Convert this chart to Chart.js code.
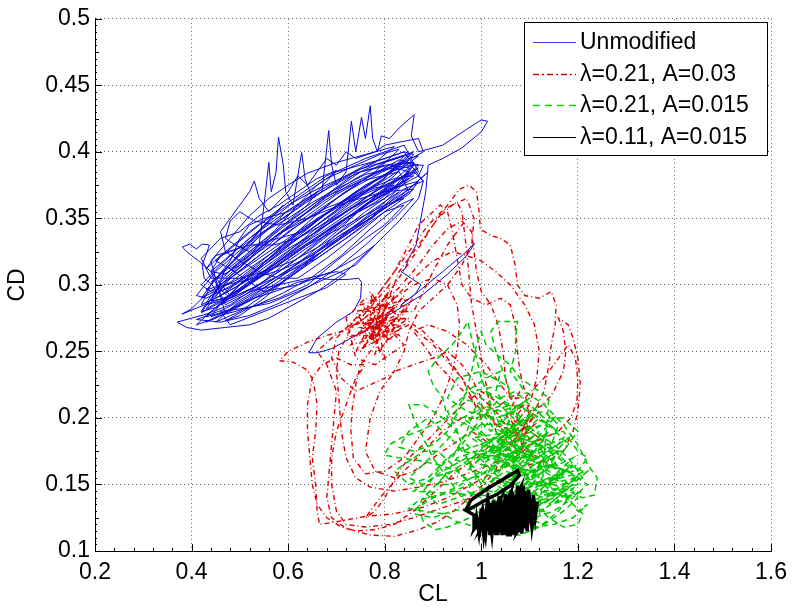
<!DOCTYPE html>
<html>
<head>
<meta charset="utf-8">
<script src="https://cdn.jsdelivr.net/npm/chart.js@4/dist/chart.umd.min.js"></script>
<style>
  body { margin: 0; background: #fff; }
  canvas { display: block; }
</style>
</head>
<body>
<canvas id="chart" width="795" height="610"></canvas>
<script>
// axis ticks
const xTicks = [0.2, 0.4, 0.6, 0.8, 1.0, 1.2, 1.4, 1.6];
const xTickLabels = ['0.2', '0.4', '0.6', '0.8', '1', '1.2', '1.4', '1.6'];
const yTicks = [0.1, 0.15, 0.2, 0.25, 0.3, 0.35, 0.4, 0.45, 0.5];
const yTickLabels = ['0.1', '0.15', '0.2', '0.25', '0.3', '0.35', '0.4', '0.45', '0.5'];

const seriesNames = ['Unmodified', 'λ=0.21, A=0.03', 'λ=0.21, A=0.015', 'λ=0.11, A=0.015'];

// [CL, CD]
const unmodified = [
  [0.451,0.295],[0.443,0.300],[0.426,0.305],[0.422,0.315],[0.430,0.3225],[0.437,0.330],[0.422,0.3307],[0.41,0.327],[0.396,0.3307],[0.381,0.3285],[0.39,0.325],[0.40,0.322],[0.415,0.318],[0.44,0.31],[0.47,0.308],
  [0.52,0.322],[0.58,0.338],[0.64,0.352],[0.70,0.368],[0.76,0.38],[0.82,0.39],[0.86,0.392],[0.84,0.382],[0.78,0.366],[0.72,0.35],[0.66,0.333],[0.60,0.318],[0.54,0.30],[0.48,0.285],[0.43,0.278],[0.40,0.275],[0.37,0.272],[0.39,0.268],[0.42,0.266],[0.47,0.268],[0.52,0.270],[0.56,0.275],[0.60,0.283],[0.66,0.295],[0.72,0.31],[0.78,0.33],[0.83,0.348],[0.87,0.365],[0.88,0.378],[0.86,0.385],
  [0.80,0.375],[0.74,0.36],[0.68,0.345],[0.62,0.328],[0.56,0.312],[0.50,0.295],[0.45,0.283],[0.42,0.28],[0.44,0.292],[0.49,0.308],[0.55,0.325],[0.61,0.342],[0.67,0.358],[0.73,0.372],[0.79,0.384],[0.85,0.395],[0.87,0.397],[0.83,0.386],[0.77,0.372],[0.71,0.356],[0.65,0.34],[0.59,0.322],[0.53,0.305],[0.47,0.29],[0.44,0.288],[0.46,0.302],[0.51,0.318],
  [0.54,0.33],[0.55,0.36],[0.56,0.392],[0.565,0.37],[0.575,0.385],[0.58,0.411],[0.59,0.39],[0.595,0.37],[0.61,0.36],[0.628,0.3995],[0.635,0.38],[0.65,0.365],[0.67,0.37],[0.684,0.416],[0.69,0.39],[0.70,0.375],[0.72,0.385],[0.731,0.423],[0.74,0.40],[0.752,0.426],[0.76,0.41],[0.77,0.4346],[0.775,0.41],[0.785,0.40],[0.793,0.412],[0.81,0.41],[0.83,0.418],[0.861,0.428],[0.855,0.412],[0.87,0.40],
  [0.92,0.405],[0.97,0.417],[1.0,0.424],[1.013,0.423],[1.0,0.415],[0.96,0.403],[0.92,0.395],[0.89,0.39],
  [0.885,0.37],[0.875,0.35],[0.865,0.33],[0.85,0.32],[0.842,0.312],[0.834,0.31],[0.855,0.305],[0.875,0.30],[0.863,0.293],[0.834,0.285],[0.87,0.295],[0.92,0.31],[0.96,0.322],[0.986,0.331],[0.97,0.322],[0.93,0.308],[0.88,0.293],[0.82,0.28],[0.77,0.268],[0.73,0.26],[0.69,0.252],[0.66,0.249],[0.643,0.249],[0.66,0.26],[0.70,0.272],[0.735,0.28],[0.75,0.29],[0.752,0.302],[0.746,0.305],[0.72,0.304],[0.69,0.304],[0.66,0.305],[0.62,0.302],[0.58,0.296],
  [0.53,0.29],[0.47,0.28],[0.44,0.276],[0.46,0.286],[0.52,0.30],[0.58,0.315],[0.64,0.33],[0.70,0.345],[0.76,0.36],[0.82,0.372],[0.87,0.382],[0.88,0.39],[0.84,0.39],[0.78,0.378],[0.72,0.362],[0.66,0.345],[0.60,0.33],[0.54,0.315],[0.48,0.298],[0.45,0.294],[0.47,0.312],[0.52,0.33],[0.57,0.345],[0.63,0.36],[0.69,0.375],[0.75,0.387],[0.81,0.394],[0.86,0.40],[0.82,0.387],[0.76,0.375],[0.70,0.36],[0.64,0.342],[0.58,0.325],[0.52,0.308],[0.46,0.292],[0.42,0.285],[0.44,0.30],[0.48,0.318],[0.50,0.335],[0.52,0.345],[0.55,0.35],[0.60,0.355],[0.66,0.368],[0.72,0.38],[0.78,0.39],[0.84,0.397],
  [0.80,0.38],[0.74,0.365],[0.68,0.35],[0.62,0.335],[0.56,0.318],[0.50,0.30],[0.46,0.285],[0.50,0.292],[0.56,0.305],[0.62,0.32],[0.68,0.338],[0.74,0.355],[0.80,0.37],[0.85,0.38],[0.80,0.362],[0.74,0.345],[0.68,0.328],[0.62,0.31],[0.56,0.295],[0.50,0.28],[0.45,0.272],[0.49,0.285],[0.55,0.298],[0.61,0.312],[0.67,0.325],[0.73,0.34],[0.79,0.355],[0.84,0.367],[0.86,0.372],
  [0.80,0.37],[0.72,0.362],[0.64,0.35],[0.58,0.345],[0.53,0.348],[0.50,0.355],[0.48,0.348],[0.47,0.335],[0.49,0.33],[0.52,0.325],
  [0.57,0.34],[0.62,0.36],[0.66,0.375],[0.70,0.385],[0.75,0.39],[0.80,0.395],[0.84,0.40],[0.86,0.398],[0.82,0.382],[0.77,0.368],[0.71,0.352],[0.65,0.338],[0.59,0.325],[0.53,0.31],[0.47,0.297],[0.43,0.29],[0.41,0.292],[0.45,0.31],[0.50,0.326],[0.55,0.34],[0.60,0.35],[0.65,0.362],[0.70,0.372],[0.76,0.383],[0.82,0.388],[0.85,0.385],[0.79,0.37],[0.73,0.355],[0.67,0.34],[0.61,0.326],[0.55,0.31],[0.49,0.293],[0.44,0.28],[0.41,0.27],[0.45,0.275],[0.51,0.287],[0.57,0.3],[0.63,0.315],[0.69,0.33],[0.75,0.345],[0.81,0.36],[0.86,0.375],[0.89,0.385],[0.85,0.372],[0.79,0.357],[0.73,0.342],[0.67,0.325],[0.61,0.308],[0.55,0.29],[0.50,0.277],[0.47,0.273],[0.52,0.283],[0.58,0.29],[0.64,0.3],[0.70,0.318],[0.76,0.335],[0.80,0.345],[0.84,0.36],[0.80,0.355],[0.74,0.337],[0.68,0.32],[0.62,0.305],
  [0.58,0.305],[0.54,0.31],[0.50,0.318],[0.47,0.325],[0.46,0.34],[0.48,0.35],[0.50,0.36],[0.52,0.37],[0.53,0.378],[0.54,0.365],[0.56,0.355],[0.60,0.37],[0.62,0.382],[0.64,0.375],[0.66,0.385],[0.68,0.395],[0.70,0.39],[0.72,0.40],[0.74,0.395],[0.78,0.40],[0.80,0.405],[0.84,0.408],[0.87,0.41],[0.88,0.40],
  [0.83,0.39],[0.77,0.376],[0.71,0.362],[0.65,0.346],[0.59,0.33],[0.53,0.315],[0.48,0.302],[0.44,0.295],[0.42,0.3],[0.46,0.315],[0.51,0.332],[0.56,0.347],[0.62,0.365],[0.68,0.38],[0.74,0.39],[0.79,0.398],[0.83,0.402],
  [0.78,0.385],[0.72,0.37],[0.66,0.354],[0.60,0.34],[0.54,0.322],[0.48,0.305],[0.43,0.293],[0.40,0.282],[0.38,0.278],[0.42,0.284],[0.48,0.292],[0.54,0.308],[0.60,0.322],[0.66,0.336],[0.72,0.35],[0.78,0.362],[0.83,0.375],[0.87,0.388],
  [0.82,0.378],[0.76,0.36],[0.70,0.34],[0.64,0.322],[0.58,0.305],[0.52,0.29],[0.46,0.278],[0.43,0.272],[0.48,0.28],[0.54,0.292],[0.60,0.305],[0.66,0.32],[0.72,0.335],[0.78,0.35],[0.84,0.365],
  [0.80,0.36],[0.72,0.345],[0.64,0.33],[0.56,0.31],[0.48,0.292],[0.44,0.31],[0.52,0.335],[0.60,0.356],[0.68,0.374],[0.76,0.39],[0.84,0.40],[0.86,0.39],[0.80,0.365],[0.72,0.35],[0.64,0.33],[0.56,0.31],[0.48,0.292],[0.43,0.282],
  [0.48,0.305],[0.56,0.325],[0.64,0.345],[0.72,0.362],[0.80,0.375],[0.87,0.385],[0.84,0.405],[0.76,0.395],[0.68,0.382],[0.60,0.362],[0.52,0.34],[0.46,0.322],[0.44,0.31],
  [0.47,0.285],[0.55,0.30],[0.63,0.318],[0.71,0.336],[0.79,0.355],[0.85,0.37],[0.83,0.385],[0.75,0.378],[0.67,0.365],[0.59,0.345],[0.51,0.322],[0.45,0.305],
  [0.42,0.29],[0.50,0.305],[0.58,0.328],[0.66,0.35],[0.74,0.368],[0.82,0.38],[0.86,0.382],[0.78,0.364],[0.70,0.346],[0.62,0.326],[0.54,0.306],[0.46,0.287],[0.42,0.279],
  [0.46,0.30],[0.52,0.32],[0.58,0.342],[0.64,0.36],[0.66,0.37],[0.60,0.356],[0.54,0.336],[0.48,0.315],[0.44,0.302],
  [0.50,0.315],[0.56,0.33],[0.62,0.35],[0.68,0.366],[0.74,0.38],[0.80,0.392],[0.85,0.398],[0.80,0.382],[0.74,0.37],[0.68,0.354],[0.62,0.338],[0.56,0.32],
  [0.50,0.30],[0.57,0.318],[0.65,0.338],[0.73,0.358],[0.81,0.372],[0.87,0.378],[0.85,0.368],[0.77,0.352],[0.69,0.333],[0.61,0.314],[0.53,0.295],[0.47,0.282],
  [0.41,0.274],[0.46,0.272],[0.52,0.277],[0.58,0.286],[0.64,0.298],[0.70,0.312],[0.76,0.33],[0.82,0.35],[0.86,0.365],[0.83,0.36],[0.77,0.342],[0.71,0.322],[0.65,0.306],[0.59,0.294],[0.53,0.284],[0.47,0.278],
  [0.44,0.318],[0.48,0.335],[0.52,0.352],[0.56,0.365],[0.60,0.375],[0.64,0.384],[0.70,0.392],[0.76,0.398],[0.82,0.404],[0.78,0.392],[0.72,0.382],[0.66,0.372],[0.60,0.36],[0.54,0.345],[0.49,0.33],[0.45,0.318],
  [0.49,0.31],[0.55,0.33],[0.61,0.347],[0.67,0.362],[0.73,0.376],[0.79,0.386],[0.84,0.392],[0.79,0.378],[0.73,0.364],[0.67,0.348],[0.61,0.332],[0.55,0.315],[0.49,0.298],
  [0.45,0.29],[0.51,0.302],[0.57,0.315],[0.63,0.332],[0.69,0.35],[0.75,0.364],[0.81,0.376],[0.85,0.388],[0.81,0.39],[0.75,0.385],[0.69,0.37],[0.63,0.352],[0.57,0.335],[0.51,0.316],[0.46,0.3],
  [0.43,0.296],[0.49,0.32],[0.55,0.345],[0.59,0.36],[0.57,0.352],[0.53,0.336],[0.49,0.32],[0.53,0.33],[0.58,0.335],[0.63,0.34],[0.69,0.356],[0.75,0.372],[0.81,0.385],[0.86,0.39],
  [0.82,0.37],[0.76,0.355],[0.70,0.338],[0.64,0.318],[0.58,0.3],[0.52,0.288],[0.47,0.28],[0.43,0.276],[0.47,0.29],[0.53,0.31],[0.59,0.33],[0.65,0.35],[0.71,0.368],[0.77,0.382],[0.83,0.394],[0.87,0.39],
  [0.83,0.376],[0.77,0.362],[0.71,0.345],[0.65,0.328],[0.59,0.312],[0.53,0.298],[0.48,0.29],[0.45,0.3],[0.50,0.318],[0.56,0.335],[0.62,0.352],[0.68,0.368],[0.74,0.384],[0.80,0.39],[0.85,0.392],
  [0.88,0.378],[0.84,0.372],[0.78,0.352],[0.72,0.335],[0.66,0.32],[0.60,0.31],[0.54,0.3],[0.48,0.29],[0.43,0.285],
  [0.47,0.3],[0.53,0.305],[0.59,0.312],[0.65,0.322],[0.71,0.338],[0.77,0.35],[0.83,0.37],[0.79,0.36],[0.73,0.345],[0.67,0.33],[0.61,0.318],[0.55,0.31],[0.50,0.305],[0.44,0.305],[0.42,0.32],[0.46,0.335],[0.50,0.34],[0.54,0.352],
  [0.58,0.36],[0.62,0.37],[0.66,0.38],[0.70,0.386],[0.66,0.37],[0.62,0.358],[0.58,0.348],[0.54,0.338],[0.50,0.328],[0.46,0.322],[0.43,0.312],[0.45,0.322],
  [0.52,0.33],[0.57,0.33],[0.62,0.335],[0.67,0.345],[0.72,0.355],[0.77,0.365],[0.82,0.375],[0.78,0.373],[0.73,0.365],[0.68,0.358],[0.63,0.348],[0.58,0.338],[0.53,0.325],[0.48,0.312],
  [0.55,0.295],[0.62,0.3],[0.69,0.31],[0.75,0.322],[0.78,0.33],[0.74,0.315],[0.68,0.305],[0.62,0.295],[0.56,0.286],[0.50,0.282],[0.46,0.28],
  [0.48,0.27],[0.55,0.28],[0.62,0.29],[0.68,0.298],[0.72,0.308],[0.70,0.31],[0.64,0.305],[0.58,0.3],[0.52,0.295]
];

const lam21A03 = [
  [0.79,0.27],[0.76,0.255],[0.82,0.285],[0.77,0.262],[0.84,0.292],[0.75,0.25],[0.80,0.28],[0.74,0.262],[0.83,0.276],[0.78,0.29],[0.81,0.258],[0.76,0.28],[0.85,0.285],[0.79,0.25],[0.77,0.275],[0.82,0.27],[0.75,0.268],[0.80,0.262],[0.73,0.255],[0.78,0.282],
  [0.82,0.30],[0.86,0.322],[0.90,0.345],[0.93,0.36],[0.955,0.372],[0.975,0.375],[0.99,0.37],[0.995,0.357],[0.998,0.342],[1.02,0.337],[1.04,0.335],[1.06,0.33],[1.07,0.315],[1.075,0.30],[1.09,0.292],[1.12,0.29],[1.145,0.295],[1.155,0.285],[1.153,0.27],[1.145,0.255],[1.14,0.24],[1.13,0.22],[1.11,0.205],
  [1.08,0.19],[1.12,0.205],[1.06,0.18],[1.10,0.2],[1.05,0.175],[1.11,0.195],[1.04,0.185],[1.09,0.175],[1.06,0.2],[1.12,0.185],[1.07,0.17],[1.10,0.185],
  [1.06,0.165],[1.02,0.158],[0.98,0.15],[0.93,0.14],[0.88,0.133],[0.82,0.128],[0.76,0.126],[0.70,0.122],[0.665,0.12],[0.66,0.13],[0.657,0.15],[0.65,0.17],[0.657,0.19],[0.66,0.21],[0.652,0.228],[0.64,0.236],[0.61,0.242],[0.582,0.243],[0.60,0.25],[0.64,0.257],[0.68,0.262],[0.72,0.266],
  [0.78,0.28],[0.83,0.298],[0.87,0.315],[0.90,0.33],[0.93,0.342],[0.96,0.348],[0.98,0.34],[0.985,0.325],[0.99,0.31],[1.0,0.295],[1.02,0.285],[1.035,0.27],[1.045,0.25],[1.05,0.23],[1.06,0.215],
  [1.09,0.215],[1.13,0.23],[1.16,0.245],[1.18,0.255],[1.195,0.245],[1.2,0.228],[1.198,0.212],[1.185,0.2],[1.16,0.19],[1.13,0.185],[1.10,0.18],[1.06,0.172],
  [1.02,0.165],[0.97,0.158],[0.92,0.152],[0.87,0.148],[0.82,0.145],[0.77,0.148],[0.74,0.155],[0.72,0.17],[0.71,0.19],[0.705,0.215],[0.70,0.235],[0.705,0.25],[0.72,0.26],[0.76,0.265],
  [0.79,0.28],[0.82,0.29],[0.86,0.30],[0.90,0.305],[0.93,0.3],[0.95,0.285],[0.955,0.27],[0.95,0.25],[0.94,0.235],[0.92,0.215],[0.90,0.2],[0.87,0.185],[0.84,0.17],[0.80,0.16],[0.76,0.158],[0.735,0.17],[0.73,0.19],[0.732,0.205],[0.74,0.225],[0.75,0.24],[0.77,0.25],
  [0.80,0.265],[0.76,0.27],[0.81,0.28],[0.78,0.26],[0.84,0.28],[0.77,0.268],
  [0.82,0.29],[0.86,0.305],[0.90,0.318],[0.94,0.325],[0.97,0.322],[1.0,0.318],[1.03,0.31],[1.06,0.3],[1.09,0.285],[1.11,0.27],[1.12,0.25],[1.115,0.23],[1.1,0.21],[1.08,0.2],[1.05,0.19],
  [1.03,0.16],[0.99,0.145],[0.95,0.132],[0.91,0.122],[0.87,0.116],[0.82,0.111],[0.77,0.112],[0.72,0.117],[0.69,0.125],[0.68,0.14],[0.685,0.16],[0.69,0.18],[0.695,0.2],[0.70,0.22],
  [0.68,0.24],[0.66,0.25],[0.69,0.26],[0.73,0.27],[0.77,0.285],[0.80,0.3],[0.83,0.315],[0.86,0.33],[0.89,0.345],[0.92,0.356],[0.95,0.362],[0.96,0.355],[0.965,0.34],[0.97,0.325],[0.975,0.305],[0.98,0.285],[0.99,0.265],[1.0,0.245],[1.01,0.225],[1.02,0.205],[1.03,0.19],[1.05,0.18],
  [1.08,0.185],[1.10,0.19],[1.07,0.2],[1.09,0.21],[1.05,0.2],[1.08,0.22],[1.04,0.21],
  [1.0,0.22],[0.96,0.21],[0.92,0.195],[0.88,0.18],[0.85,0.17],[0.83,0.16],[0.80,0.14],[0.78,0.13],[0.76,0.125],
  [0.79,0.14],[0.84,0.16],[0.88,0.175],[0.92,0.19],[0.96,0.2],[1.0,0.2],
  [0.96,0.23],[0.90,0.255],[0.85,0.27],
  [0.74,0.25],[0.80,0.29],[0.75,0.272],[0.83,0.262],[0.77,0.295],[0.80,0.245],[0.74,0.28],[0.86,0.29],[0.79,0.262],[0.72,0.262],[0.81,0.3],[0.78,0.248],[0.84,0.27],[0.76,0.26],[0.82,0.292],[0.75,0.285],[0.79,0.275],[0.73,0.27],[0.85,0.275],[0.77,0.255],
  [0.83,0.31],[0.87,0.33],[0.91,0.35],[0.94,0.36],[0.97,0.365],[0.985,0.35],[0.98,0.33],[0.96,0.315],[0.93,0.3],[0.90,0.29],[0.87,0.28],[0.85,0.265],[0.84,0.25],[0.82,0.235],
  [0.80,0.23],[0.77,0.225],[0.74,0.22],[0.71,0.23],[0.69,0.245],[0.70,0.26],[0.74,0.275],[0.78,0.29],[0.82,0.31],[0.85,0.33],[0.87,0.345],[0.90,0.355],[0.915,0.36],[0.93,0.355],[0.94,0.34],[0.95,0.32],[0.96,0.30],[0.98,0.29],[1.01,0.285],[1.04,0.29],[1.06,0.285],[1.07,0.27],[1.075,0.25],[1.08,0.235],[1.09,0.22],[1.10,0.2],
  [1.07,0.19],[1.03,0.195],[0.99,0.21],[0.95,0.225],[0.91,0.24],[0.88,0.255],[0.86,0.265],[0.89,0.27],[0.93,0.265],[0.97,0.255],[1.01,0.24],[1.04,0.225],[1.07,0.21],[1.10,0.205],[1.13,0.21],[1.15,0.22],[1.17,0.235],[1.175,0.25],[1.17,0.265],[1.16,0.275],
  [1.18,0.27],[1.19,0.26],[1.2,0.245],[1.205,0.225],[1.2,0.205],[1.19,0.19],[1.17,0.175],[1.14,0.168],[1.10,0.165],[1.06,0.158],[1.02,0.15],
  [0.98,0.14],[0.94,0.135],[0.90,0.13],[0.86,0.125],[0.81,0.12],[0.76,0.118],[0.72,0.12],[0.70,0.13],[0.69,0.15],[0.69,0.17],[0.70,0.19],[0.72,0.21],[0.74,0.23],[0.76,0.24],
  [0.73,0.24],[0.70,0.245],[0.67,0.24],[0.65,0.23],[0.64,0.21],[0.64,0.19],[0.645,0.17],[0.65,0.15],[0.66,0.135],[0.68,0.125],[0.71,0.118],[0.74,0.115],[0.78,0.116],[0.82,0.12],[0.86,0.13],[0.89,0.14],[0.92,0.15],[0.95,0.16],[0.99,0.17],[1.02,0.18],
  [0.98,0.19],[0.94,0.18],[0.90,0.17],[0.86,0.16],[0.82,0.155],[0.78,0.16],[0.76,0.175],[0.77,0.2],[0.79,0.22],[0.82,0.235],[0.86,0.24],[0.90,0.245],[0.93,0.25],[0.96,0.24],[0.98,0.23],[1.0,0.215],[1.03,0.205],[1.06,0.19],[1.09,0.18],[1.11,0.17],[1.08,0.175],[1.1,0.195],[1.06,0.185],
  [1.02,0.2],[0.97,0.225],[0.92,0.25],[0.88,0.265],[0.84,0.275],[0.80,0.27],[0.84,0.255],[0.78,0.24],[0.74,0.245],[0.72,0.275],[0.76,0.29],[0.82,0.28],[0.86,0.28],[0.88,0.295],[0.9,0.31],[0.93,0.33],[0.95,0.34],[0.97,0.35]
];

const lam21A015 = [
  [1.05,0.17],[1.12,0.19],[1.03,0.16],[1.14,0.18],[1.02,0.175],[1.10,0.2],[1.00,0.18],[1.13,0.17],[1.04,0.19],[1.16,0.175],[1.06,0.155],[1.12,0.16],[1.0,0.165],[1.09,0.185],[0.98,0.17],[1.11,0.175],[1.03,0.15],[1.15,0.165],[1.07,0.145],[1.18,0.16],[1.08,0.17],[1.04,0.2],[1.1,0.215],[1.02,0.19],[0.99,0.2],[1.06,0.21],[1.01,0.22],[1.08,0.195],
  [1.05,0.23],[1.03,0.25],[1.02,0.265],[1.034,0.2725],[1.075,0.2725],[1.071,0.26],[1.071,0.25],[1.06,0.235],
  [1.09,0.22],[1.13,0.21],[1.17,0.195],[1.2,0.18],[1.22,0.165],[1.24,0.155],[1.234,0.142],[1.21,0.14],[1.18,0.145],[1.15,0.15],
  [1.19,0.135],[1.21,0.128],[1.2,0.12],[1.17,0.118],[1.14,0.125],[1.11,0.135],
  [1.06,0.14],[1.01,0.13],[0.97,0.124],[0.93,0.118],[0.905,0.116],[0.88,0.122],[0.87,0.133],[0.9,0.14],[0.94,0.145],[0.98,0.15],
  [0.95,0.16],[0.91,0.165],[0.87,0.168],[0.83,0.17],[0.80,0.172],[0.81,0.18],[0.834,0.185],[0.87,0.19],[0.90,0.195],[0.93,0.2],
  [0.92,0.215],[0.90,0.225],[0.89,0.235],[0.91,0.245],[0.94,0.255],[0.96,0.265],[0.972,0.2725],[0.98,0.26],[0.99,0.245],[1.0,0.23],[1.02,0.21],
  [1.08,0.16],[1.14,0.19],[1.05,0.165],[1.17,0.185],[1.09,0.15],[1.16,0.155],[1.06,0.18],[1.12,0.2],[1.03,0.17],[1.1,0.155],[0.98,0.185],[1.07,0.19],[0.96,0.175],[1.11,0.165],[1.04,0.145],[1.19,0.17],[1.13,0.15],[1.2,0.155],[1.12,0.14],[1.07,0.13],[1.02,0.14],
  [1.0,0.12],[1.04,0.113],[1.08,0.112],[1.12,0.118],[1.16,0.13],[1.18,0.14],[1.14,0.145],[1.1,0.142],
  [0.94,0.13],[0.9,0.125],[0.86,0.128],[0.88,0.14],[0.92,0.155],[0.96,0.165],[1.0,0.175],[1.04,0.18],[1.08,0.19],[1.13,0.195],[1.16,0.19],
  [1.1,0.205],[1.05,0.21],[1.0,0.205],[0.96,0.195],[0.92,0.18],[0.88,0.165],[0.85,0.155],[0.88,0.15],[0.92,0.16],[0.97,0.17],
  [1.00,0.15],[1.08,0.2],[0.97,0.16],[1.12,0.21],[1.01,0.17],[1.15,0.2],[1.05,0.155],[1.18,0.185],[1.08,0.145],[1.2,0.165],[1.11,0.15],[1.22,0.16],[1.14,0.135],[1.19,0.15],[1.1,0.13],[1.15,0.14],[1.06,0.125],[1.13,0.13],[1.09,0.16],[1.04,0.175],[1.0,0.19],[0.96,0.2],[1.02,0.21],[0.98,0.22],[1.05,0.225],[1.0,0.235],[0.95,0.23],[0.93,0.215],[0.97,0.205],[1.03,0.2],[1.07,0.205],[1.11,0.19],[1.15,0.18],[1.18,0.17],[1.21,0.155],[1.17,0.15],[1.13,0.16],[1.1,0.17],[1.06,0.175],[1.02,0.16],[0.98,0.155],[0.94,0.15],[0.91,0.15],[0.95,0.17],[0.99,0.175],[1.03,0.185],[1.07,0.18],[1.12,0.17],[1.16,0.16],[1.2,0.14],[1.17,0.13],[1.13,0.12],[1.09,0.125],[1.05,0.13],[1.02,0.125],[0.99,0.13],[0.96,0.14],[0.93,0.155],[0.9,0.17],[0.88,0.185],[0.86,0.2],[0.85,0.21],[0.88,0.21],[0.92,0.2],[0.96,0.185],[1.0,0.195],[1.04,0.195],[1.08,0.185],[1.12,0.18],[1.16,0.17],[1.19,0.16],[1.15,0.155],[1.11,0.145],[1.07,0.15],[1.03,0.155],[0.99,0.16],[0.95,0.18],[0.92,0.19],[0.89,0.2],
  [0.85,0.19],[0.83,0.178],[0.86,0.175],[0.9,0.18],[0.93,0.19],[0.96,0.21],[0.98,0.235],[0.99,0.255],[1.0,0.265],[1.01,0.255],[1.04,0.245],[1.06,0.24],[1.08,0.23],[1.1,0.225],[1.12,0.22],[1.14,0.215],
  [1.12,0.125],[1.08,0.118],[1.03,0.116],[0.99,0.118],[0.95,0.122],[0.92,0.128],[0.88,0.13],[0.85,0.132],[0.87,0.138],[0.91,0.142],[0.95,0.148],
  [1.0,0.16],[1.06,0.2],[1.02,0.15],[1.1,0.195],[1.04,0.14],[1.13,0.185],[1.07,0.135],[1.16,0.175],[1.1,0.14],[1.19,0.165],[1.13,0.145],[1.2,0.15],[1.15,0.135],[1.21,0.145],[1.17,0.14],[1.12,0.155],[1.08,0.165],[1.05,0.18],[1.02,0.195],[0.99,0.21],[0.97,0.19],[0.94,0.17],[0.97,0.165],[1.01,0.18],[1.05,0.19],[1.09,0.2],[1.13,0.205],[1.16,0.195],[1.14,0.175],[1.11,0.16],[1.07,0.155],[1.03,0.145],[1.0,0.14],[0.97,0.145],[0.99,0.155],[1.03,0.165],[1.08,0.175],[1.12,0.185],[1.17,0.19],[1.2,0.175],[1.22,0.17],[1.19,0.155],[1.15,0.145],[1.11,0.135],[1.07,0.125],[1.04,0.12],[1.08,0.13],[1.12,0.13],[1.16,0.138],[1.13,0.15],[1.09,0.155],[1.05,0.16],[1.01,0.15],[0.98,0.16],[0.95,0.19],[0.93,0.205],[0.96,0.215],[1.0,0.21],[1.04,0.205],[1.08,0.21],[1.11,0.2],[1.14,0.195],[1.18,0.18],[1.15,0.165],[1.11,0.17],[1.07,0.17],[1.03,0.175],[0.99,0.185],[1.02,0.2],[1.06,0.195],[1.1,0.185],[1.14,0.17],[1.17,0.16],[1.14,0.15],[1.1,0.148],[1.06,0.145],[1.02,0.135],[1.05,0.14],[1.09,0.14],
  [0.86,0.145],[0.9,0.155],[0.94,0.16],[0.98,0.17],[1.02,0.17],[1.06,0.165],[1.1,0.16],[1.14,0.165],[1.18,0.16],[1.22,0.15],[1.19,0.14],[1.15,0.13],[1.11,0.125],[1.07,0.14],[1.03,0.15],[0.99,0.145],[0.95,0.14],[0.91,0.135],[0.88,0.145],[0.92,0.165],[0.96,0.18],[1.0,0.2],[1.04,0.215],[1.07,0.22],[1.1,0.21],[1.13,0.2],[1.17,0.2],[1.2,0.19],[1.17,0.175],[1.13,0.175],[1.09,0.17],[1.05,0.17],[1.01,0.185],[0.97,0.195],[0.94,0.2],[0.97,0.22],[1.01,0.23],[1.04,0.235],[1.03,0.22],[1.06,0.205],[1.1,0.19],[1.14,0.18],[1.18,0.165],[1.21,0.16],[1.18,0.15],[1.14,0.14],[1.1,0.135],[1.06,0.135],[1.02,0.145],[0.98,0.15],[0.94,0.165],[0.91,0.175],[0.88,0.175],[0.84,0.165],[0.82,0.16],[0.85,0.15],[0.89,0.155],[0.93,0.17],[0.97,0.18],[1.01,0.165],[1.05,0.15],[1.09,0.145],[1.13,0.14],[1.17,0.145],[1.2,0.13],[1.22,0.135],[1.19,0.125],[1.15,0.12],[1.11,0.118],[1.07,0.12]
];

const lam11A015 = [
  [0.968,0.1306],[0.978,0.138],[1.013,0.147],[1.048,0.1545],[1.075,0.1605],[1.079,0.157],[1.06,0.149],[1.034,0.143],[1.007,0.138],[0.978,0.132],[0.968,0.1306],[0.985,0.127],
  [0.985,0.116],[0.99,0.126],[0.995,0.114],[1.0,0.132],[1.005,0.113],[1.012,0.135],[1.018,0.112],[1.025,0.138],[1.03,0.112],[1.037,0.141],[1.043,0.112],[1.05,0.143],[1.055,0.111],[1.062,0.146],[1.068,0.112],[1.075,0.149],[1.08,0.114],[1.087,0.149],[1.092,0.117],[1.098,0.146],[1.103,0.121],[1.108,0.142],[1.112,0.126],[1.116,0.137],
  [1.11,0.13],[1.105,0.118],[1.1,0.14],[1.095,0.115],[1.09,0.145],[1.084,0.113],[1.078,0.147],[1.072,0.112],[1.065,0.144],[1.06,0.111],[1.053,0.142],[1.047,0.112],[1.04,0.14],[1.034,0.112],[1.028,0.137],[1.022,0.113],[1.015,0.134],[1.009,0.113],[1.003,0.13],[0.997,0.115],[0.99,0.122],[0.986,0.117],
  [0.99,0.119],[1.02,0.136],[1.0,0.118],[1.04,0.139],[1.02,0.114],[1.06,0.143],[1.04,0.114],[1.08,0.146],[1.06,0.113],[1.095,0.143],[1.075,0.115],[1.11,0.135],[1.09,0.12],[1.112,0.128],[1.1,0.125],[1.07,0.14],[1.05,0.13],[1.03,0.125],[1.01,0.125],[0.995,0.12],
  [1.0,0.127],[1.035,0.131],[1.065,0.135],[1.095,0.133],[1.105,0.128],[1.075,0.124],[1.045,0.12],[1.015,0.118],[0.992,0.116]
];

const FONT = "'Liberation Sans', Arial, sans-serif";
const toXY = arr => arr.map(p => ({ x: p[0], y: p[1] }));

const styles = [
  { color: '#0a0ad8', width: 1, dash: [] },
  { color: '#dd0000', width: 1.4, dash: [5, 3, 1, 3] },
  { color: '#00c800', width: 1.5, dash: [6, 4] },
  { color: '#000000', width: 3.5, dash: [] }
];
const legendColors = ['#3a3ae0', '#e00000', '#00dd00', '#000000'];
const allSeries = [unmodified, lam21A03, lam21A015, lam11A015];

// inward ticks and the boxed legend, MATLAB style
const overlay = {
  id: 'overlay',
  afterDraw(chart) {
    const { ctx, chartArea: a, scales: { x, y } } = chart;
    ctx.save();
    ctx.strokeStyle = '#000';
    ctx.lineWidth = 1;
    ctx.beginPath();
    for (let v = 0.2; v <= 1.6001; v += 0.04) {
      const px = Math.round(x.getPixelForValue(v)) + 0.5;
      const major = Math.abs(v * 5 - Math.round(v * 5)) < 1e-6;
      ctx.moveTo(px, a.bottom);
      ctx.lineTo(px, a.bottom - (major ? 7 : 3));
    }
    for (let v = 0.1; v <= 0.5001; v += 0.005) {
      const py = Math.round(y.getPixelForValue(v)) + 0.5;
      const k = Math.round(v * 200);
      const len = k % 10 === 0 ? 7 : (k % 5 === 0 ? 4 : 2);
      ctx.moveTo(a.left, py);
      ctx.lineTo(a.left + len, py);
    }
    ctx.stroke();

    // legend
    const bx = 524.5, by = 22.5, bw = 243, bh = 133;
    ctx.fillStyle = '#fff';
    ctx.fillRect(bx, by, bw, bh);
    ctx.strokeRect(bx, by, bw, bh);
    const rows = [42, 73.5, 105, 136.5];
    const dashes = [[], [6, 3, 2, 3], [7, 5], []];
    ctx.font = '23px ' + FONT;
    ctx.textBaseline = 'middle';
    ctx.textAlign = 'left';
    seriesNames.forEach((name, i) => {
      ctx.strokeStyle = legendColors[i];
      ctx.lineWidth = i === 0 || i === 3 ? 1 : 1.5;
      ctx.setLineDash(dashes[i]);
      ctx.beginPath();
      ctx.moveTo(533, Math.round(rows[i]) + 0.5);
      ctx.lineTo(576, Math.round(rows[i]) + 0.5);
      ctx.stroke();
      ctx.setLineDash([]);
      ctx.fillStyle = '#000';
      ctx.fillText(name, 580, rows[i] + 1);
    });
    ctx.restore();
  }
};

const chart = new Chart(document.getElementById('chart'), {
  type: 'scatter',
  data: {
    datasets: allSeries.map((d, i) => ({
      label: seriesNames[i],
      data: toXY(d),
      showLine: true,
      pointRadius: 0,
      borderColor: styles[i].color,
      borderWidth: styles[i].width,
      borderDash: styles[i].dash,
      tension: 0,
      order: 4 - i
    }))
  },
  options: {
    responsive: false,
    animation: false,
    devicePixelRatio: 1,
    layout: { padding: { left: 0, right: 20, top: 16, bottom: 0 } },
    plugins: { legend: { display: false }, tooltip: { enabled: false } },
    scales: {
      x: {
        type: 'linear', min: 0.2, max: 1.6,
        afterBuildTicks: s => { s.ticks = xTicks.map(v => ({ value: v })); },
        afterFit: s => { s.height = 59; },
        ticks: {
          callback: (v, i) => xTickLabels[i],
          font: { family: FONT, size: 23 }, color: '#000', padding: 8, maxRotation: 0
        },
        grid: { color: '#666', lineWidth: 1, drawTicks: false },
        border: { display: true, color: '#000', width: 1, dash: [1, 3] },
        title: { display: true, text: 'CL', font: { family: FONT, size: 23 }, color: '#000', padding: { top: 0, bottom: 2 } }
      },
      y: {
        type: 'linear', min: 0.1, max: 0.5,
        afterBuildTicks: s => { s.ticks = yTicks.map(v => ({ value: v })); },
        afterFit: s => { s.width = 95; },
        ticks: {
          callback: (v, i) => yTickLabels[i],
          font: { family: FONT, size: 23 }, color: '#000', padding: 5
        },
        grid: { color: '#666', lineWidth: 1, drawTicks: false },
        border: { display: true, color: '#000', width: 1, dash: [1, 3] },
        title: { display: true, text: 'CD', font: { family: FONT, size: 23 }, color: '#000', padding: { top: 4, bottom: 0 } }
      }
    }
  },
  plugins: [overlay]
});
</script>
</body>
</html>
